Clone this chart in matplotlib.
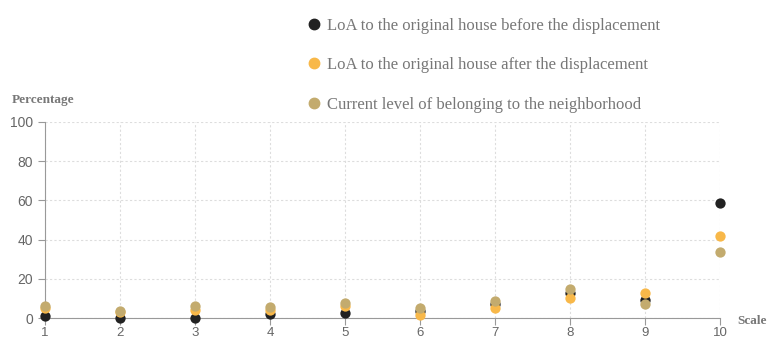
import matplotlib
matplotlib.use("Agg")
import matplotlib.pyplot as plt
from matplotlib.lines import Line2D

scale = [1, 2, 3, 4, 5, 6, 7, 8, 9, 10]
before = [1, 0, 0, 1.9, 2.7, 3.6, 7, 12.7, 9.2, 58.8]
after = [5, 3, 4.3, 4, 6, 1.5, 4.9, 10.2, 12.9, 41.8]
current = [6.1, 3.8, 6, 5.5, 7.5, 5.3, 8.7, 14.6, 7.1, 33.5]
labels = ["LoA to the original house before the displacement",
          "LoA to the original house after the displacement",
          "Current level of belonging to the neighborhood"]
colors = ["#222222", "#F8B849", "#C3AB6E"]

fig = plt.figure(figsize=(7.67, 3.41), dpi=100)
ax = fig.add_axes([45 / 767, 23 / 341, 675 / 767, 196 / 341])

for vals, c, lab in zip([before, after, current], colors, labels):
    ax.scatter(scale, vals, s=55, color=c, clip_on=False, zorder=3, label=lab, linewidths=0)

ax.set_xlim(1, 10)
ax.set_ylim(0, 100)
ax.set_xticks(scale)
ax.set_yticks([0, 20, 40, 60, 80, 100])
ax.grid(True, color="#dddddd", linestyle=(0, (2, 2)), linewidth=0.8)
for s in ["top", "right"]:
    ax.spines[s].set_visible(False)
for s in ["left", "bottom"]:
    ax.spines[s].set_color("#999999")
ax.tick_params(colors="#999999", labelcolor="#666666", length=5,
               labelsize=10, labelfontfamily="Liberation Sans")
ax.tick_params(axis="x", pad=1.5, labelsize=9.5)

fig.text(12 / 767, 1 - 100 / 341, "Percentage", family="Liberation Serif",
         weight="bold", color="#777777", fontsize=9.5, va="center")
fig.text(737 / 767, 1 - 321 / 341, "Scale", family="Liberation Serif",
         weight="bold", color="#777777", fontsize=9.5, va="center")

handles = [Line2D([], [], marker="o", linestyle="", color=c, markersize=7.5) for c in colors]
fig.legend(handles, labels, loc="upper left", bbox_to_anchor=(289 / 767, 1 - 3 / 341),
           frameon=False, labelspacing=1.4, handletextpad=0.2, handlelength=1.2,
           prop={"family": "Liberation Serif", "size": 12}, labelcolor="#777777")

fig.savefig("out.png", dpi=100)
